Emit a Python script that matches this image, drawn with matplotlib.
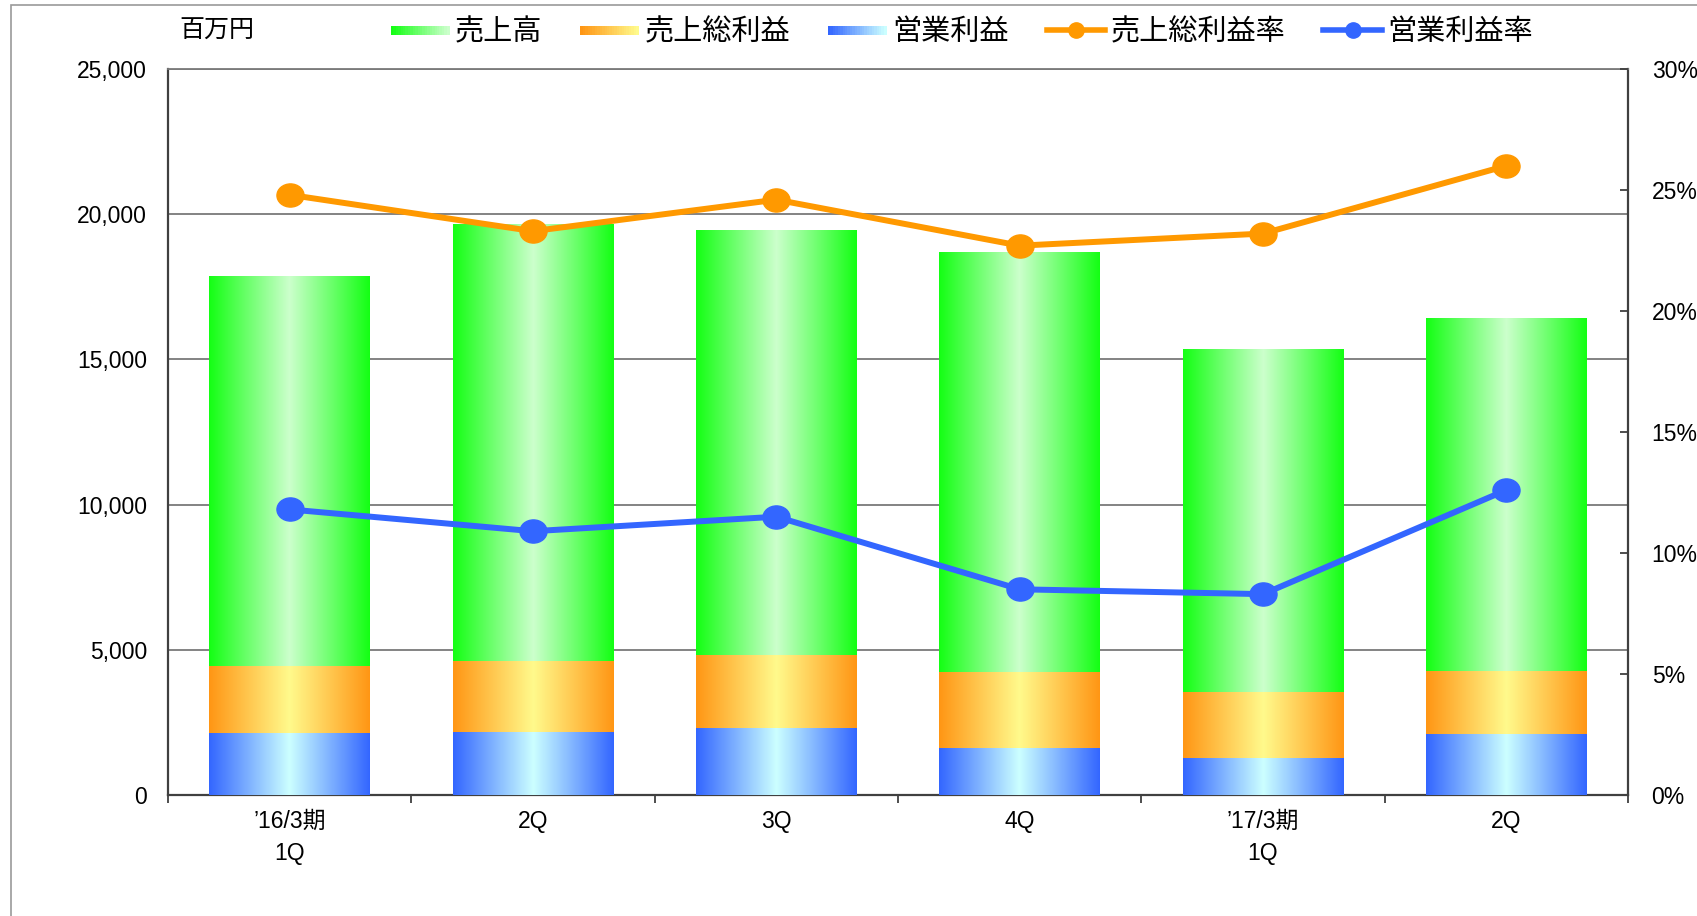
import numpy as np
import matplotlib
matplotlib.use("Agg")
import matplotlib.pyplot as plt
from matplotlib.colors import LinearSegmentedColormap
from matplotlib.patches import Rectangle
from matplotlib.legend_handler import HandlerBase
from matplotlib.lines import Line2D
from matplotlib.path import Path
from matplotlib.markers import MarkerStyle
from matplotlib.transforms import Affine2D

plt.rcParams['font.family'] = ['Liberation Sans', 'Noto Sans CJK JP', 'DejaVu Sans']

# data (百万円 / %)
categories = ["’16/3期\n1Q", "2Q", "3Q", "4Q", "’17/3期\n1Q", "2Q"]
sales = [17870, 19650, 19440, 18690, 15340, 16420]
gross_profit = [4440, 4590, 4810, 4220, 3540, 4250]
op_profit = [2130, 2160, 2280, 1600, 1270, 2090]
gross_margin = [24.8, 23.3, 24.6, 22.7, 23.2, 26.0]
op_margin = [11.8, 10.9, 11.5, 8.5, 8.3, 12.6]

series_names = ["売上高", "売上総利益", "営業利益", "売上総利益率", "営業利益率"]

green = ("#14ff14", "#ccffcc")
orange = ("#ff9614", "#fffa8c")
blue = ("#3366ff", "#ccffff")


def cmap_of(edge, center):
    return LinearSegmentedColormap.from_list("g", [edge, center, edge])


W, H = 1697, 916
fig = plt.figure(figsize=(W / 100, H / 100), dpi=100)
ax = fig.add_axes([168 / W, 1 - 795 / H, (1628 - 168) / W, (795 - 69) / H])

x = np.arange(len(categories))
grad = np.linspace(0, 1, 256).reshape(1, -1)
for vals, cols, z in [(sales, green, 2), (gross_profit, orange, 3), (op_profit, blue, 4)]:
    bars = ax.bar(x, vals, width=0.66, facecolor="none", edgecolor="none", zorder=z)
    cm = cmap_of(*cols)
    for b in bars:
        ax.imshow(grad, cmap=cm, aspect="auto", interpolation="bilinear",
                  extent=[b.get_x(), b.get_x() + b.get_width(), 0, b.get_height()], zorder=z)

ax.set_xlim(-0.5, len(categories) - 0.5)
ax.set_ylim(0, 25000)
ax.set_yticks(np.arange(0, 25001, 5000))
ax.set_yticklabels([f"{v:,}" for v in range(0, 25001, 5000)])
ax.yaxis.grid(True, color="#7a7a7a", lw=1.3)
ax.set_axisbelow(True)
ax.tick_params(axis="y", length=0, pad=15, labelsize=16.5)
ax.set_xticks(x)
ax.set_xticklabels(categories, linespacing=1.5)
ax.set_xticks(np.arange(-0.5, len(categories)), minor=True)
ax.tick_params(axis="x", which="major", length=0, pad=11, labelsize=16.5)
ax.tick_params(axis="x", which="minor", length=6, width=1.3, color="#404040", direction="out")
for s in ["left", "bottom", "right"]:
    ax.spines[s].set_color("#404040")
    ax.spines[s].set_linewidth(1.6)
ax.spines["top"].set_color("#7a7a7a")
ax.spines["top"].set_linewidth(1.3)

ax2 = ax.twinx()
ax2.set_ylim(0, 30)
ax2.set_yticks(np.arange(0, 31, 5))
ax2.set_yticklabels([f"{v}%" for v in range(0, 31, 5)])
ax2.tick_params(axis="y", direction="in", length=6, width=1.3, color="#404040", pad=17, labelsize=16.5)
for s in ax2.spines.values():
    s.set_visible(False)

ell = Path.unit_circle().transformed(Affine2D().scale(1.17, 1.0))
mk = MarkerStyle(ell)
ax2.plot(x, gross_margin, color="#ff9900", lw=4.3, marker=mk, ms=19.5, zorder=5)
ax2.plot(x, op_margin, color="#3366ff", lw=4.3, marker=mk, ms=19.5, zorder=5)


class GradPatch:
    def __init__(self, cols):
        self.cols = cols


class GradHandler(HandlerBase):
    def create_artists(self, legend, orig_handle, xdescent, ydescent, width, height, fontsize, trans):
        cm = cmap_of(*orig_handle.cols)
        n = 24
        arts = []
        for i in range(n):
            r = Rectangle((-xdescent + width * i / n, -ydescent + height * 0.24), width / n + 0.3,
                          height * 0.46, facecolor=cm(0.5 * i / (n - 1)), edgecolor="none",
                          transform=trans)
            arts.append(r)
        return arts


handles = [GradPatch(green), GradPatch(orange), GradPatch(blue),
           Line2D([], [], color="#ff9900", lw=4, marker="o", ms=11),
           Line2D([], [], color="#3366ff", lw=4, marker="o", ms=11)]
fig.legend(handles, series_names, handler_map={GradPatch: GradHandler()},
           loc="center", bbox_to_anchor=(962 / W, 1 - 32 / H), ncol=5, frameon=False,
           fontsize=21, handlelength=2.0, handletextpad=0.2, columnspacing=1.3)

fig.text(217 / W, 1 - 31 / H, "百万円", fontsize=18, ha="center", va="center")

fig.patches.append(Rectangle((11 / W, -0.05), 1.1, 1 - 5 / H + 0.05, transform=fig.transFigure,
                             facecolor="none", edgecolor="#9a9a9a", lw=1.2))

fig.savefig("out.png", dpi=100)
